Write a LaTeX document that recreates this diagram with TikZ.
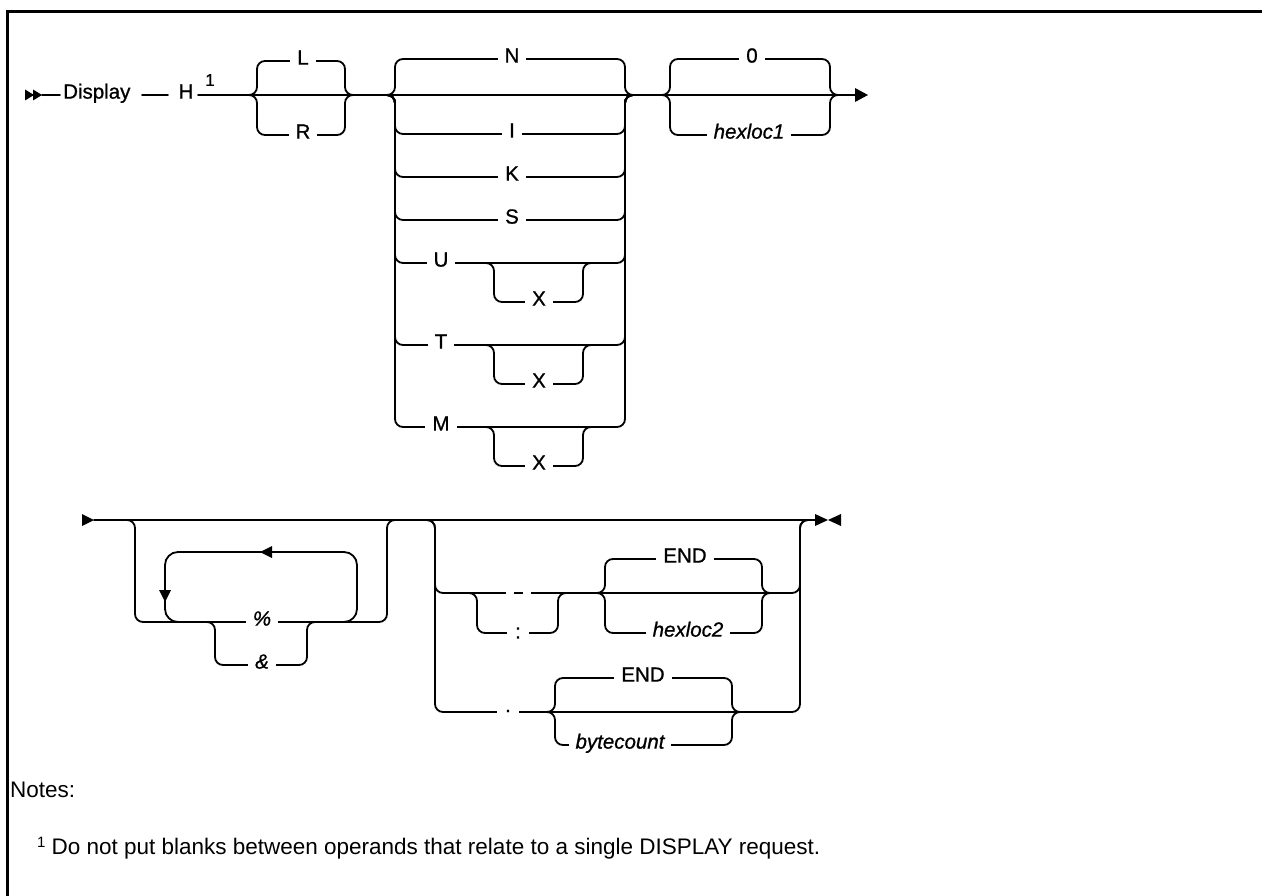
\documentclass[tikz,border=0pt]{standalone}
\usepackage{fontspec}
\setmainfont{Liberation Sans}
\newfontfamily\railfam[FakeBold=0.9]{Liberation Sans}
\newcommand{\lblfont}{\railfam\fontsize{20.5}{24}\selectfont}
\newcommand{\notefont}{\fontsize{22.5}{27}\selectfont}
\begin{document}
\begin{tikzpicture}[x=1pt,y=-1pt,
  rail/.style={line width=1.8pt, rounded corners=8pt, line cap=round},
  loop/.style={line width=1.8pt, rounded corners=13pt},
  lbl/.style={fill=white, inner xsep=7pt, inner ysep=1pt, font=\lblfont, text height=0.72em, text depth=0pt},
  var/.style={lbl, font=\lblfont\itshape},
  punct/.style={fill=white, inner xsep=8pt, inner ysep=1pt, font=\lblfont},
  tip/.style={fill=black}]
\useasboundingbox (0,0) rectangle (1262,896);
% frame
\draw[line width=3pt, line join=miter] (7,896) -- (7,12) -- (1262,12);

% ---------------- row 1 ----------------
\fill[tip] (25,89.5) -- (34,95) -- (25,100.5) -- cycle;
\fill[tip] (33,89.5) -- (42,95) -- (33,100.5) -- cycle;
\node[font=\lblfont, anchor=west, inner sep=0pt, text height=0.72em, text depth=0pt] (disp) at (63,95) {Display};
\node[font=\lblfont, inner sep=0pt, text height=0.72em, text depth=0pt] (hh) at (186,95) {H};
\node[font=\railfam\fontsize{17}{17}\selectfont, inner sep=0pt] (fn1) at (210,80) {1};
\draw[rail] (42,95) -- (60,95);
\draw[rail] (142,95) -- (168,95);
\draw[rail] (198,95) -- (855,95);
\fill[tip] (855,88) -- (868,95) -- (855,102) -- cycle;

% L / R
\draw[rail] (249,95) -| (257,61) -| (345,95) -- (353,95);
\draw[rail] (249,95) -| (257,135) -| (345,95) -- (353,95);
\node[lbl] (nL) at (303,61) {L};
\node[lbl] (nR) at (303,135) {R};

% N I K S U T M
\foreach \yy in {59,134,177,220,263,345,427}
  \draw[rail] (387,95) -| (395,\yy) -| (625,95) -- (633,95);
\foreach \yy in {263,345,427}
  \draw[rail] (486,\yy) -| (494,\yy+39) -| (583,\yy) -- (591,\yy);
\node[lbl] (nN) at (512,59) {N};
\node[lbl] (nI) at (512,134) {I};
\node[lbl] (nK) at (512,177) {K};
\node[lbl] (nS) at (512,220) {S};
\node[lbl] (nU) at (441,263) {U};
\node[lbl] (nXu) at (539,302) {X};
\node[lbl] (nT) at (441,345) {T};
\node[lbl] (nXt) at (539,384) {X};
\node[lbl] (nM) at (441,427) {M};
\node[lbl] (nXm) at (539,466) {X};

% 0 / hexloc1
\draw[rail] (662,95) -| (670,59) -| (830,95) -- (838,95);
\draw[rail] (662,95) -| (670,135) -| (830,95) -- (838,95);
\node[lbl] (n0) at (752,59) {0};
\node[var] (hx1) at (749,135) {hexloc1};

% ---------------- row 2 ----------------
\fill[tip] (82,514) -- (94,520) -- (82,526) -- cycle;
\draw[rail] (94,520) -- (815,520);
\fill[tip] (815,514) -- (828,520) -- (815,526) -- cycle;
\fill[tip] (841,514) -- (828,520) -- (841,526) -- cycle;

% repeat group
\draw[rail] (127,520) -| (135,622) -| (387,520) -- (395,520);
\draw[loop] (345,622) -| (357,552) -| (165,622) -- (180,622);
\fill[tip] (260,552) -- (272,546) -- (272,558) -- cycle;
\fill[tip] (159,590) -- (171,590) -- (165,602) -- cycle;
\draw[rail] (207,622) -| (215,665) -| (307,622) -- (315,622);
\node[var] (pct) at (262,622) {\%};
\node[var] (amp) at (262,665) {\&};

% range group
\draw[rail] (427,520) -| (435,593) -| (800,520) -- (808,520);
\draw[rail] (427,520) -| (435,712) -| (800,520) -- (808,520);
\draw[rail] (469,593) -| (477,633) -| (558,593) -- (566,593);
\draw[rail] (597,593) -| (605,559) -| (762,593) -- (770,593);
\draw[rail] (597,593) -| (605,633) -| (762,593) -- (770,593);
\draw[rail] (547,712) -| (555,678) -| (732,712) -- (740,712);
\draw[rail] (547,712) -| (555,745) -| (732,712) -- (740,712);
\node[punct] (dash) at (518,593) {\rule{9pt}{2.6pt}};
\node[punct] (colon) at (518,633) {:};
\node[lbl] (end1) at (685,559) {END};
\node[var] (hx2) at (688,633) {hexloc2};
\node[punct] (dot) at (508,711) {.};
\node[lbl] (end2) at (643,678) {END};
\node[var] (bc) at (620,745) {bytecount};

% ---------------- notes ----------------
\node[font=\notefont, anchor=west, inner sep=0pt] (notes) at (10,790) {Notes:};
\node[font=\notefont, anchor=west, inner sep=0pt] (note1) at (37,848) {\raisebox{0.55ex}{\fontsize{15}{15}\selectfont 1}\hspace{6pt}Do not put blanks between operands that relate to a single DISPLAY request.};
\end{tikzpicture}
\end{document}
